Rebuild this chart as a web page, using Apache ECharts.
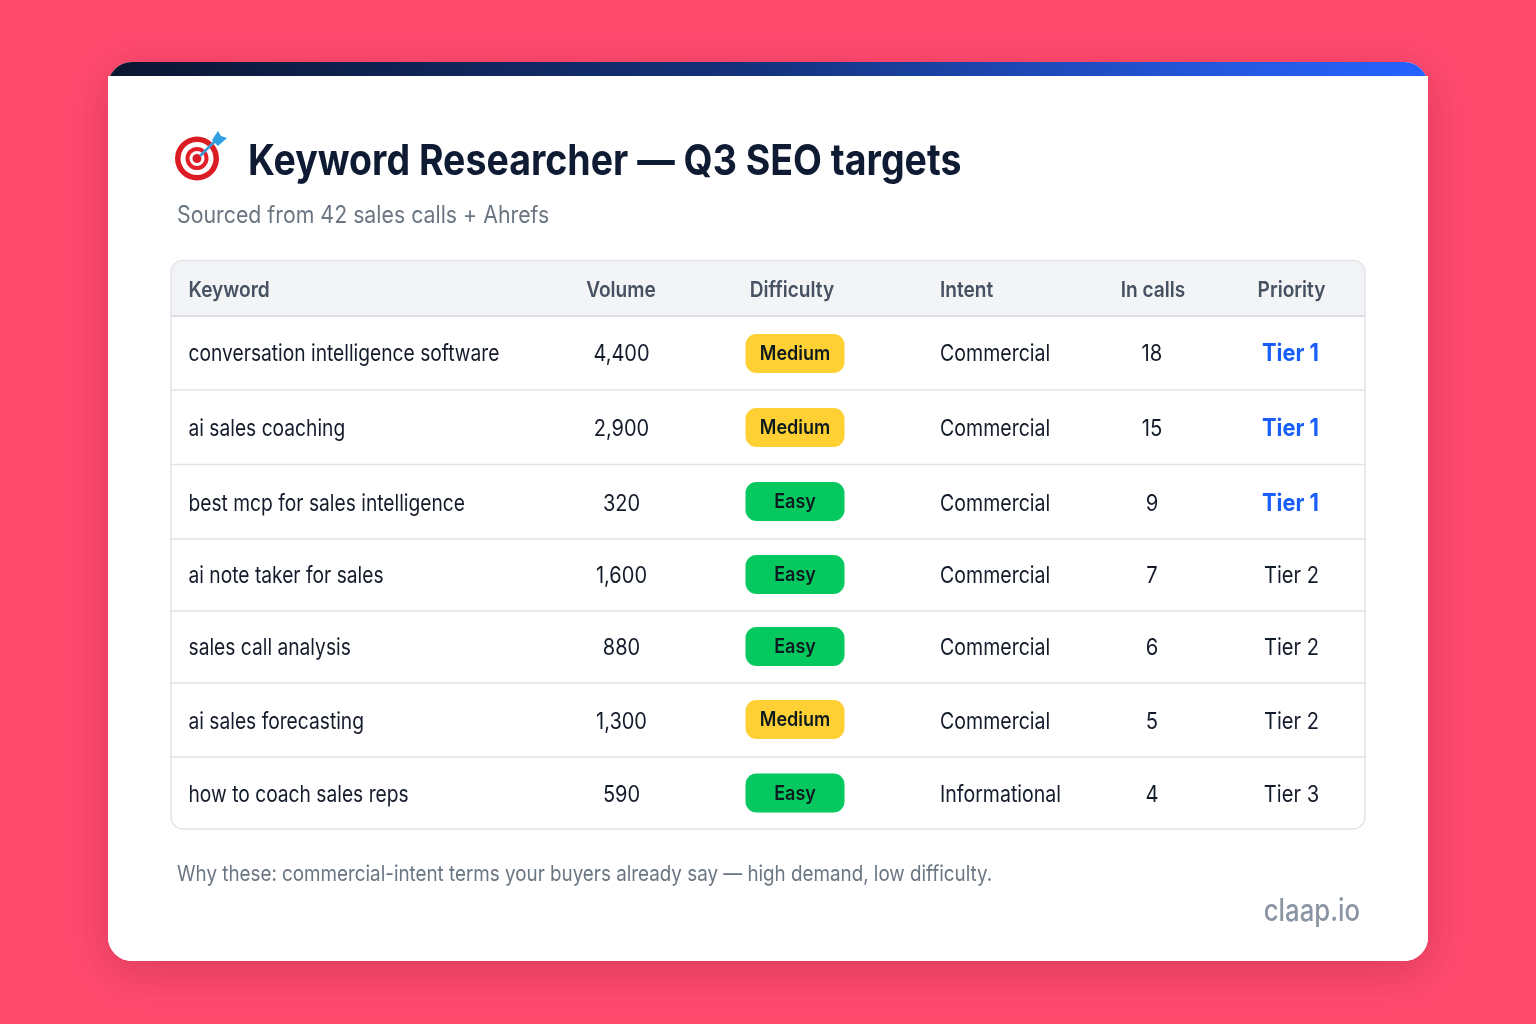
<!DOCTYPE html>
<html>
<head>
<meta charset="utf-8">
<title>Keyword Researcher</title>
<script src="https://cdn.jsdelivr.net/npm/echarts@6/dist/echarts.min.js"></script>
<style>
html, body { margin: 0; padding: 0; background: #ff4a6e; }
#chart { width: 1536px; height: 1024px; }
</style>
</head>
<body>
<div id="chart"></div>
<script>
// table content
var headers = ['Keyword', 'Volume', 'Difficulty', 'Intent', 'In calls', 'Priority'];
var keywords = ['conversation intelligence software', 'ai sales coaching', 'best mcp for sales intelligence', 'ai note taker for sales', 'sales call analysis', 'ai sales forecasting', 'how to coach sales reps'];
var volumes = [4400, 2900, 320, 1600, 880, 1300, 590];
var difficulty = ['Medium', 'Medium', 'Easy', 'Easy', 'Easy', 'Medium', 'Easy'];
var intents = ['Commercial', 'Commercial', 'Commercial', 'Commercial', 'Commercial', 'Commercial', 'Informational'];
var inCalls = [18, 15, 9, 7, 6, 5, 4];
var priorities = ['Tier 1', 'Tier 1', 'Tier 1', 'Tier 2', 'Tier 2', 'Tier 2', 'Tier 3'];

// layout, in page pixels (the hidden axes map 1:1 onto the page)
var colX = [188.5, 621.5, 795, 940, 1152, 1291.5];
var headX = [188.5, 621, 792, 940, 1153, 1291.5];
var colAlign = ['left', 'center', 'center', 'left', 'center', 'center'];
var colSqueeze = [0.835, 0.87, 0.9, 0.85, 0.88, 0.875];
var rowY = [354, 429, 504, 576, 648, 722, 795];
var badgeY = [353.5, 427.5, 501.5, 574.5, 646.5, 719.5, 793];
var ruleY = [390, 464.5, 539, 611, 683, 757];

var FONT = 'Inter, "Noto Sans", sans-serif';
var INK = '#141b2b';
var BADGE = { Medium: '#ffd033', Easy: '#05c95f' };

function txt(text, x, y, size, weight, color, align, sx) {
    return {
        type: 'text',
        x: x,
        y: y,
        scaleX: sx || 1,
        style: {
            text: text,
            x: 0,
            y: 0,
            fill: color,
            font: weight + ' ' + size + 'px ' + FONT,
            align: align || 'left',
            verticalAlign: 'middle'
        }
    };
}

function cellText(col, row) {
    if (col === 0) return keywords[row];
    if (col === 1) return volumes[row].toLocaleString('en-US');
    if (col === 2) return difficulty[row];
    if (col === 3) return intents[row];
    if (col === 4) return String(inCalls[row]);
    return priorities[row];
}

function renderCell(params, api) {
    var col = api.value(2);
    var row = api.value(3);
    var p = api.coord([api.value(0), api.value(1)]);
    var label = cellText(col, row);
    if (col === 2) {
        return {
            type: 'group',
            children: [
                {
                    type: 'rect',
                    shape: { x: p[0] - 49.5, y: p[1] - 19.5, width: 99, height: 39, r: 11 },
                    style: { fill: BADGE[label] }
                },
                txt(label, p[0], p[1] + 0.5, 20, 600, '#0c1a20', 'center', colSqueeze[col])
            ]
        };
    }
    if (col === 5 && label === 'Tier 1') {
        return txt(label, p[0] - 1, p[1], 24, 700, '#1a5ffa', 'center', 0.91);
    }
    return txt(label, p[0], p[1], 23, 400, INK, colAlign[col], colSqueeze[col]);
}

var cells = [];
rowY.forEach(function(y, row) {
    colX.forEach(function(x, col) {
        cells.push([x, col === 2 ? badgeY[row] : y, col, row]);
    });
});

var graphics = [
    // card
    { type: 'rect', shape: { x: 108, y: 62, width: 1320, height: 899, r: 24 },
      style: { fill: '#fff', shadowBlur: 46, shadowOffsetY: 10, shadowColor: 'rgba(60,10,30,0.20)' } },
    { type: 'rect', shape: { x: 108, y: 62, width: 1320, height: 40, r: [24, 24, 0, 0] },
      style: { fill: new echarts.graphic.LinearGradient(0, 0, 1, 0, [
          { offset: 0, color: '#0a1530' },
          { offset: 0.5, color: '#14337f' },
          { offset: 0.85, color: '#2458e0' },
          { offset: 1, color: '#2563ff' }
      ]) } },
    { type: 'rect', shape: { x: 108, y: 76, width: 1320, height: 885, r: [0, 0, 24, 24] }, style: { fill: '#fff' } },

    // target icon
    { type: 'circle', shape: { cx: 197, cy: 158.5, r: 22 }, style: { fill: '#dc1c24' } },
    { type: 'circle', shape: { cx: 197, cy: 158.5, r: 16.5 }, style: { fill: '#fff' } },
    { type: 'circle', shape: { cx: 197, cy: 158.5, r: 11.5 }, style: { fill: '#e3202a' } },
    { type: 'circle', shape: { cx: 197, cy: 158.5, r: 7.5 }, style: { fill: '#fff' } },
    { type: 'circle', shape: { cx: 197, cy: 158.5, r: 4.5 }, style: { fill: '#dc1c24' } },
    { type: 'line', shape: { x1: 200, y1: 156, x2: 216, y2: 140 }, style: { stroke: '#3a9bd8', lineWidth: 2.5 } },
    { type: 'polygon', shape: { points: [[212, 140], [218, 131], [221, 136], [227, 138], [218, 146]] }, style: { fill: '#2f9fe2' } },

    // headings
    txt('Keyword Researcher \u2014 Q3 SEO targets', 248, 162, 43, 700, '#0f1b33', 'left', 0.872),
    txt('Sourced from 42 sales calls + Ahrefs', 177, 216, 24, 400, '#6b7683', 'left', 0.888),

    // table frame
    { type: 'rect', shape: { x: 171, y: 260, width: 1194, height: 56, r: [12, 12, 0, 0] }, style: { fill: '#f3f4f6' } },
    { type: 'rect', shape: { x: 171, y: 260.5, width: 1194, height: 568.5, r: 12 },
      style: { fill: 'none', stroke: '#e1e4e9', lineWidth: 1.5 } },
    { type: 'line', shape: { x1: 171, y1: 316, x2: 1365, y2: 316 }, style: { stroke: '#dcdfe6', lineWidth: 2 } },

    // footer
    txt('Why these: commercial-intent terms your buyers already say \u2014 high demand, low difficulty.', 177, 874, 22, 400, '#6b7683', 'left', 0.855),
    txt('claap.io', 1360, 912, 31, 500, '#8a94a3', 'right', 0.83)
];

ruleY.forEach(function(y) {
    graphics.push({ type: 'line', shape: { x1: 171, y1: y, x2: 1365, y2: y }, style: { stroke: '#e1e4e9', lineWidth: 1.5 } });
});
headers.forEach(function(h, i) {
    graphics.push(txt(h, headX[i], 290.5, 22, 600, '#465162', colAlign[i], 0.868));
});

var chart = echarts.init(document.getElementById('chart'));
chart.setOption({
    animation: false,
    backgroundColor: '#ff4a6e',
    grid: { left: 0, top: 0, width: 1536, height: 1024 },
    xAxis: { type: 'value', min: 0, max: 1536, show: false },
    yAxis: { type: 'value', min: 0, max: 1024, inverse: true, show: false },
    graphic: { elements: graphics },
    series: [{
        type: 'custom',
        coordinateSystem: 'cartesian2d',
        renderItem: renderCell,
        encode: { x: 0, y: 1 },
        data: cells,
        silent: true
    }]
});
</script>
</body>
</html>
